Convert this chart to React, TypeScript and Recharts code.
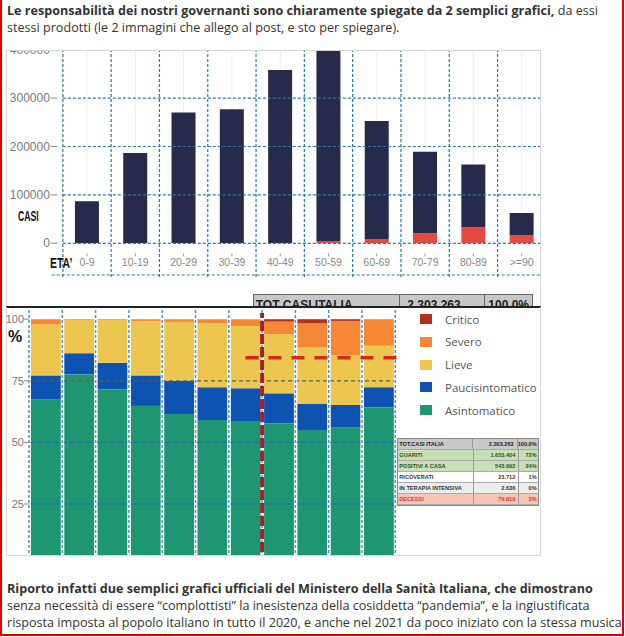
import { BarChart, Bar, XAxis, YAxis, CartesianGrid, ReferenceLine } from "recharts";

// primo grafico: casi per fascia d'età
const FASCE = ["0-9", "10-19", "20-29", "30-39", "40-49", "50-59", "60-69", "70-79", "80-89", ">=90"];
const CASI_TOTALI = [86800, 186600, 270000, 277000, 358000, 402000, 252700, 189000, 163000, 62600];
const CASI_ROSSI = [0, 0, 0, 0, 0, 4500, 9000, 20600, 33000, 17000];
const CASI_TICKS = [0, 100000, 200000, 300000, 400000];
const CASI_GRIGLIA_Y = [0, 100000, 200000, 300000];
const CASI_GRIGLIA_BASSO = -65500;

// secondo grafico: gravità dei sintomi (%)
const CLASSI = ["0-9", "10-19", "20-29", "30-39", "40-49", "50-59", "60-69", "70-79", "80-89", "90-99", ">=100"];
const ASINTOMATICO = [67.5, 77.6, 71.5, 64.8, 61.5, 59.1, 58.7, 57.8, 55.0, 56.1, 64.2];
const PAUCI = [9.7, 8.6, 10.8, 12.4, 13.5, 13.3, 13.3, 12.1, 10.6, 9.1, 8.2];
const LIEVE = [20.7, 13.5, 17.4, 22.0, 23.9, 25.9, 25.2, 24.0, 23.0, 20.3, 16.8];
const SEVERO = [2.1, 0.3, 0.3, 0.8, 1.1, 1.7, 2.8, 5.1, 9.7, 13.8, 10.8];
const CRITICO = [0, 0, 0, 0, 0, 0, 0, 1.0, 1.7, 0.7, 0];
const PCT_TICKS = [0, 25, 50, 75, 100];
const LINEA_ROSSA_Y = 84.4;

const SERIE = [
  { key: "asintomatico", label: "Asintomatico", color: "#1f9672", values: ASINTOMATICO },
  { key: "pauci", label: "Paucisintomatico", color: "#0e52b2", values: PAUCI },
  { key: "lieve", label: "Lieve", color: "#ecc64f", values: LIEVE },
  { key: "severo", label: "Severo", color: "#f68735", values: SEVERO },
  { key: "critico", label: "Critico", color: "#b3301b", values: CRITICO },
];

const TABELLA = [
  { voce: "TOT.CASI ITALIA", num: "2.303.263", pct: "100,0%", bg: "#c9c9c9", fg: "#222" },
  { voce: "GUARITI", num: "1.653.404", pct: "72%", bg: "#c6e0b4", fg: "#2f4f23" },
  { voce: "POSITIVI A CASA", num: "543.692", pct: "24%", bg: "#c6e0b4", fg: "#2f4f23" },
  { voce: "RICOVERATI", num: "23.712", pct: "1%", bg: "#ffffff", fg: "#333" },
  { voce: "IN TERAPIA INTENSIVA", num: "2.636", pct: "0%", bg: "#ededed", fg: "#333" },
  { voce: "DECESSI", num: "79.819", pct: "3%", bg: "#f6c6b6", fg: "#e2382c" },
];

// "centro" = indice della colonna, usato da un asse numerico nascosto per le linee sovrapposte
const datiCasi = FASCE.map((f, i) => ({
  fascia: f,
  centro: i,
  rossi: CASI_ROSSI[i],
  blu: CASI_TOTALI[i] - CASI_ROSSI[i],
}));

const datiSintomi = CLASSI.map((c, i) => {
  const row: Record<string, number | string> = { classe: c, centro: i };
  SERIE.forEach((s) => (row[s.key] = s.values[i]));
  return row;
});

const GRIGLIA = "#2b7aa0";
// confini tra le colonne, in unità dell'asse "centro"
const confini = (n: number) => Array.from({ length: n + 1 }, (_, k) => k - 0.5);

const CasiYTick = ({ x, y, payload }: any) => (
  <g>
    <text x={x - 13} y={y} dy={4} textAnchor="end" fill="#777" fontSize={12} fontFamily="Liberation Sans">
      {payload.value}
    </text>
    <line x1={x - 12} x2={x - 5.5} y1={y} y2={y} stroke="#888" />
  </g>
);

const EtaTick = ({ x, y, payload }: any) => (
  <g>
    <line x1={x} x2={x} y1={y + 10} y2={y + 13} stroke="#999" />
    <text x={x} y={y + 23} textAnchor="middle" fill="#888" fontSize={10.5} fontFamily="Liberation Sans">
      {payload.value}
    </text>
  </g>
);

const PctTick = ({ x, y, payload }: any) => (
  <g>
    <text x={x - 5} y={y} dy={4} textAnchor="end" fill="#777" fontSize={11} fontFamily="Liberation Sans">
      {payload.value}
    </text>
    <line x1={x - 5} x2={x} y1={y} y2={y} stroke="#888" />
  </g>
);

function GraficoCasi() {
  const passi = confini(FASCE.length);
  const meta = 483 / FASCE.length / 2;
  return (
    <BarChart
      width={560}
      height={300}
      data={datiCasi}
      margin={{ top: 49.7, right: 14.15, bottom: 26.7, left: 2.85 }}
      barCategoryGap="25%"
    >
      <CartesianGrid horizontal={false} stroke="#ededed" />
      <XAxis dataKey="fascia" height={30} tickSize={0} tickMargin={0} axisLine={false} tickLine={false} tick={<EtaTick />} interval={0} />
      <XAxis xAxisId="g" dataKey="centro" type="number" domain={["dataMin", "dataMax"]} padding={{ left: meta, right: meta }} hide />
      <YAxis
        width={60}
        domain={[0, 400000]}
        ticks={CASI_TICKS}
        allowDataOverflow
        tickSize={0}
        tickMargin={0}
        axisLine={false}
        tickLine={false}
        tick={<CasiYTick />}
      />
      <Bar dataKey="rossi" stackId="a" fill="#e8483d" isAnimationActive={false} />
      <Bar dataKey="blu" stackId="a" fill="#272a4a" isAnimationActive={false} />
      {CASI_GRIGLIA_Y.map((v) => (
        <ReferenceLine key={"h" + v} xAxisId="g" y={v} stroke={GRIGLIA} strokeDasharray="3 2" strokeWidth={1.2} />
      ))}
      <ReferenceLine
        xAxisId="g"
        segment={[{ x: -0.73, y: CASI_GRIGLIA_BASSO }, { x: FASCE.length - 0.5, y: CASI_GRIGLIA_BASSO }]}
        ifOverflow="visible"
        stroke={GRIGLIA}
        strokeDasharray="3 2"
        strokeWidth={1.2}
      />
      {passi.map((k) => (
        <ReferenceLine
          key={"v" + k}
          xAxisId="g"
          segment={[{ x: k, y: CASI_GRIGLIA_BASSO - 4000 }, { x: k, y: 420000 }]}
          ifOverflow="visible"
          stroke={GRIGLIA}
          strokeDasharray="3 2"
          strokeWidth={1.2}
        />
      ))}
    </BarChart>
  );
}

function GraficoSintomi() {
  const passi = confini(CLASSI.length);
  const meta = 366.3 / CLASSI.length / 2;
  return (
    <BarChart
      width={560}
      height={580}
      data={datiSintomi}
      margin={{ top: 319.2, right: 164.7, bottom: 14.4, left: 4 }}
      barSize={30}
    >
      <XAxis dataKey="classe" hide />
      <XAxis xAxisId="g" dataKey="centro" type="number" domain={["dataMin", "dataMax"]} padding={{ left: meta, right: meta }} hide />
      <YAxis
        width={25}
        domain={[0, 100]}
        ticks={PCT_TICKS}
        tickSize={0}
        tickMargin={0}
        axisLine={false}
        tickLine={false}
        tick={<PctTick />}
      />
      {SERIE.map((s) => (
        <Bar key={s.key} dataKey={s.key} stackId="s" fill={s.color} isAnimationActive={false} />
      ))}
      <ReferenceLine xAxisId="g" y={75} stroke="#4d6650" strokeDasharray="4 3" strokeWidth={1.3} />
      <ReferenceLine xAxisId="g" y={50} stroke="#2a66a8" strokeDasharray="6 2" strokeWidth={1.2} />
      <ReferenceLine xAxisId="g" y={25} stroke="#2a66a8" strokeDasharray="6 2" strokeWidth={1.2} />
      {passi.map((k) => (
        <ReferenceLine
          key={"w" + k}
          xAxisId="g"
          segment={[{ x: k, y: -5 }, { x: k, y: 104.5 }]}
          ifOverflow="visible"
          stroke="#ffffff"
          strokeWidth={3}
        />
      ))}
      {passi.map((k) => (
        <ReferenceLine
          key={"v" + k}
          xAxisId="g"
          segment={[{ x: k, y: -5 }, { x: k, y: 104.5 }]}
          ifOverflow="visible"
          stroke="#4a92c8"
          strokeDasharray="3 2"
          strokeWidth={1.5}
        />
      ))}
      <ReferenceLine
        xAxisId="g"
        segment={[{ x: 6.5, y: -5 }, { x: 6.5, y: 102.5 }]}
        ifOverflow="visible"
        stroke="#a3232b"
        strokeDasharray="10 3"
        strokeWidth={4}
      />
      <ReferenceLine
        xAxisId="g"
        segment={[{ x: 6, y: LINEA_ROSSA_Y }, { x: 10.65, y: LINEA_ROSSA_Y }]}
        ifOverflow="visible"
        stroke="#d6281d"
        strokeDasharray="13 10"
        strokeWidth={3.5}
      />
    </BarChart>
  );
}

const abs = (l: number, t: number, extra: React.CSSProperties = {}): React.CSSProperties => ({
  position: "absolute",
  left: l,
  top: t,
  ...extra,
});

export default function App() {
  return (
    <div style={abs(0, 0, { width: 625, height: 637, background: "#fff", overflow: "hidden", fontFamily: "'Open Sans', sans-serif", color: "#333" })}>
      <div style={abs(7, 1.5, { fontSize: 12.6, lineHeight: "17px", whiteSpace: "nowrap" })}>
        <b>Le responsabilità dei nostri governanti sono chiaramente spiegate da 2 semplici grafici,</b> da essi
        <br />
        stessi prodotti (le 2 immagini che allego al post, e sto per spiegare).
      </div>

      {/* immagine 1 */}
      <div style={abs(6, 50, { width: 535, height: 257, overflow: "hidden" })}>
        <div style={abs(-6, -50)}>
          <GraficoCasi />
        </div>
        <div style={abs(12, 158, { fontFamily: "Liberation Sans", fontWeight: 700, fontSize: 14, color: "#111", transform: "scaleX(0.62)", transformOrigin: "left" })}>
          CASI
        </div>
        <div style={abs(44, 205, { fontFamily: "Liberation Sans", fontWeight: 700, fontSize: 14, color: "#111", transform: "scaleX(0.74)", transformOrigin: "left" })}>
          ETA’
        </div>
        <div style={abs(246.7, 244.3, { width: 280.6, height: 14, background: "#c7c7c7", border: "1px solid #666", boxSizing: "border-box", display: "flex", overflow: "hidden", fontFamily: "Liberation Sans", fontWeight: 700, fontSize: 12, lineHeight: "12px", color: "#222" })}>
          <div style={{ width: 146.6, paddingTop: 3.7, paddingLeft: 2, borderRight: "1px solid #666", boxSizing: "border-box" }}>TOT CASI ITALIA</div>
          <div style={{ width: 85, paddingTop: 3.7, paddingLeft: 7, borderRight: "1px solid #666", boxSizing: "border-box" }}>2.303.263</div>
          <div style={{ paddingTop: 3.7, paddingLeft: 3 }}>100.0%</div>
        </div>
      </div>
      <div style={abs(6, 50, { width: 535, height: 257, borderLeft: "1px solid #d6d6d6", borderTop: "1px solid #d6d6d6", borderRight: "1px solid #d6d6d6", boxSizing: "border-box" })} />

      {/* immagine 2 */}
      <div style={abs(6.5, 307, { width: 534.5, height: 249, overflow: "hidden" })}>
        <div style={abs(-6.5, -307)}>
          <GraficoSintomi />
        </div>
        <div style={abs(1.5, 21, { fontFamily: "Liberation Sans", fontWeight: 700, fontSize: 16, color: "#111" })}>%</div>
        {[...SERIE].reverse().map((s, i) => (
          <div key={s.key} style={abs(413.5, 5 + i * 22.75, { display: "flex", alignItems: "center", height: 14 })}>
            <div style={{ width: 12, height: 10, background: s.color }} />
            <span style={{ marginLeft: 13, fontSize: 11.5, color: "#555", whiteSpace: "nowrap" }}>{s.label}</span>
          </div>
        ))}
        <div style={abs(390.8, 131.3, { width: 141.4, border: "1px solid #888", boxSizing: "border-box", fontFamily: "Liberation Sans", fontSize: 5.6, fontWeight: 700 })}>
          {TABELLA.map((r) => (
            <div key={r.voce} style={{ display: "flex", height: 10, lineHeight: "10px", background: r.bg, color: r.fg, borderBottom: "0.5px solid #aaa" }}>
              <div style={{ width: 74, paddingLeft: 1, borderRight: "0.5px solid #999" }}>{r.voce}</div>
              <div style={{ width: 41, textAlign: "right", paddingRight: 3, borderRight: "0.5px solid #999" }}>{r.num}</div>
              <div style={{ flex: 1, textAlign: "right", paddingRight: 1 }}>{r.pct}</div>
            </div>
          ))}
        </div>
      </div>
      <div style={abs(6, 306, { width: 535, height: 1.7, background: "#222" })} />
      <div style={abs(6, 307, { width: 535, height: 249, borderLeft: "1px solid #d6d6d6", borderBottom: "1px solid #d6d6d6", borderRight: "1px solid #d6d6d6", boxSizing: "border-box" })} />

      <div style={abs(7, 579.5, { fontSize: 12.6, lineHeight: "17px", whiteSpace: "nowrap" })}>
        <b>Riporto infatti due semplici grafici ufficiali del Ministero della Sanità Italiana, che dimostrano</b>
        <br />
        senza necessità di essere “complottisti” la inesistenza della cosiddetta “pandemia”, e la ingiustificata
        <br />
        risposta imposta al popolo italiano in tutto il 2020, e anche nel 2021 da poco iniziato con la stessa musica
      </div>

      <div style={abs(0, -3, { width: 624, height: 639, border: "2px solid #e00000", boxSizing: "border-box", pointerEvents: "none" })} />
    </div>
  );
}
